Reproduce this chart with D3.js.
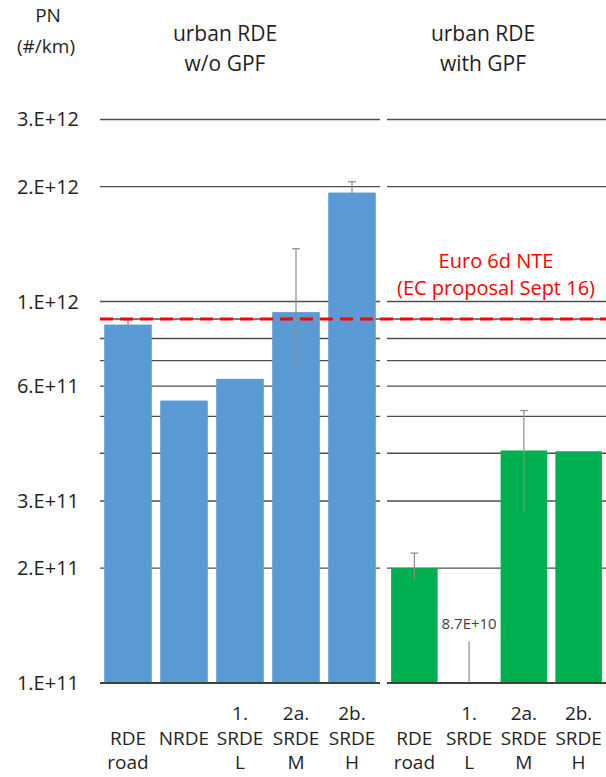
<!DOCTYPE html>
<html>
<head>
<meta charset="utf-8">
<script src="https://cdn.jsdelivr.net/npm/d3@7/dist/d3.min.js"></script>
<style>
  html, body { margin: 0; padding: 0; background: #fff; }
  svg { display: block; }
  text { font-family: "Open Sans", "DejaVu Sans", sans-serif; fill: #1f1f1f; }
</style>
</head>
<body>
<svg id="chart" width="606" height="777"></svg>
<script>
// Particle number per km, urban part of the RDE tests
const leftCats  = [["", "RDE", "road"], ["", "NRDE", ""], ["1.", "SRDE", "L"], ["2a.", "SRDE", "M"], ["2b.", "SRDE", "H"]];
const leftValues   = [8.7e11, 5.5e11, 6.27e11, 9.38e11, 1.93e12];
const leftErrLow   = [8.5e11, null, null, 6.6e11, 1.9e12];
const leftErrHigh  = [8.95e11, null, null, 1.375e12, 2.06e12];

const rightCats = [["", "RDE", "road"], ["1.", "SRDE", "L"], ["2a.", "SRDE", "M"], ["2b.", "SRDE", "H"]];
const rightValues  = [2.0e11, 8.7e10, 4.07e11, 4.05e11];
const rightErrLow  = [1.87e11, 8.7e10, 2.8e11, null];
const rightErrHigh = [2.19e11, 1.285e11, 5.18e11, null];
const rightValueLabels = [null, "8.7E+10", null, null];

const panelTitles = [["urban RDE", "w/o GPF"], ["urban RDE", "with GPF"]];
const tickValues = [3e12, 2e12, 1e12, 6e11, 3e11, 2e11, 1e11];
const tickLabels = ["3.E+12", "2.E+12", "1.E+12", "6.E+11", "3.E+11", "2.E+11", "1.E+11"];
const gridValues = [3e12, 2e12, 1e12, 9e11, 8e11, 7e11, 6e11, 5e11, 4e11, 3e11, 2e11];
const limitValue = 9e11;
const limitLabel = ["Euro 6d NTE", "(EC proposal Sept 16)"];

const svg = d3.select("#chart");

const y = d3.scaleLog().domain([1e11, 1e12]).range([683, 301.5]);
const yc = v => y(Math.max(v, 1e11));

const panels = [
  { cats: leftCats, values: leftValues, lo: leftErrLow, hi: leftErrHigh, labels: [],
    range: [100, 380], color: "#5b9bd5", title: panelTitles[0], titleX: 225 },
  { cats: rightCats, values: rightValues, lo: rightErrLow, hi: rightErrHigh, labels: rightValueLabels,
    range: [387, 606], color: "#00b050", title: panelTitles[1], titleX: 483 }
];

// y-axis tick labels
svg.append("g").attr("class", "y-labels")
  .selectAll("text").data(tickValues).join("text")
  .attr("x", 79)
  .attr("y", d => y(d))
  .attr("dy", "0.35em")
  .attr("text-anchor", "end")
  .style("font-size", "20px")
  .text((d, i) => tickLabels[i]);

// axis caption
svg.append("text").attr("x", 48).attr("y", 22).attr("text-anchor", "middle")
  .style("font-size", "19px").text("PN");
svg.append("text").attr("x", 46).attr("y", 53).attr("text-anchor", "middle")
  .style("font-size", "19px").text("(#/km)");

panels.forEach(p => {
  const key = c => c.join(" ");
  const x = d3.scaleBand().domain(p.cats.map(key)).range(p.range)
    .paddingInner(0.15).paddingOuter(0.075);
  const cx = i => x(key(p.cats[i])) + x.bandwidth() / 2;
  const g = svg.append("g");

  // horizontal gridlines
  g.selectAll("line.grid").data(gridValues).join("line")
    .attr("class", "grid")
    .attr("x1", p.range[0]).attr("x2", p.range[1])
    .attr("y1", d => y(d)).attr("y2", d => y(d))
    .attr("stroke", "#4d4d4d").attr("stroke-width", 1.4);

  // bars
  g.selectAll("rect").data(p.values).join("rect")
    .attr("x", (d, i) => x(key(p.cats[i])))
    .attr("width", x.bandwidth())
    .attr("y", d => yc(d))
    .attr("height", d => y(1e11) - yc(d))
    .attr("fill", p.color);

  // error bars
  const err = p.values.map((v, i) => ({ i, lo: p.lo[i], hi: p.hi[i] })).filter(e => e.hi != null);
  g.selectAll("line.err").data(err).join("line")
    .attr("class", "err")
    .attr("x1", e => cx(e.i)).attr("x2", e => cx(e.i))
    .attr("y1", e => yc(e.hi)).attr("y2", e => yc(e.lo))
    .attr("stroke", "#8c8c8c").attr("stroke-width", 1.2);
  g.selectAll("line.cap").data(err.filter(e => !p.labels[e.i])).join("line")
    .attr("class", "cap")
    .attr("x1", e => cx(e.i) - 4).attr("x2", e => cx(e.i) + 4)
    .attr("y1", e => yc(e.hi)).attr("y2", e => yc(e.hi))
    .attr("stroke", "#8c8c8c").attr("stroke-width", 1.2);

  // value labels for bars that fall below the axis floor
  p.values.forEach((v, i) => {
    if (!p.labels[i]) return;
    g.append("text")
      .attr("x", cx(i)).attr("y", yc(p.hi[i]) - 12)
      .attr("text-anchor", "middle")
      .style("font-size", "15px").style("fill", "#404040")
      .text(p.labels[i]);
  });

  // baseline
  g.append("line")
    .attr("x1", p.range[0]).attr("x2", p.range[1])
    .attr("y1", y(1e11)).attr("y2", y(1e11))
    .attr("stroke", "#404040").attr("stroke-width", 2);

  // category labels (three rows)
  p.cats.forEach((c, i) => {
    c.forEach((line, r) => {
      if (!line) return;
      g.append("text")
        .attr("x", cx(i)).attr("y", 720 + r * 24.5)
        .attr("text-anchor", "middle")
        .style("font-size", "19px")
        .text(line);
    });
  });

  // panel title
  p.title.forEach((t, r) => {
    svg.append("text")
      .attr("x", p.titleX)
      .attr("y", 41 + r * 30)
      .attr("text-anchor", "middle")
      .style("font-size", "21px")
      .text(t);
  });
});

// emission limit line across both panels
svg.append("line")
  .attr("x1", 100).attr("x2", 606)
  .attr("y1", y(limitValue)).attr("y2", y(limitValue))
  .attr("stroke", "#ff0000").attr("stroke-width", 3)
  .attr("stroke-dasharray", "13,7");

limitLabel.forEach((t, r) => {
  svg.append("text")
    .attr("x", 496).attr("y", 268 + r * 27)
    .attr("text-anchor", "middle")
    .style("font-size", "20px").style("fill", "#ff0000")
    .text(t);
});
</script>
</body>
</html>
